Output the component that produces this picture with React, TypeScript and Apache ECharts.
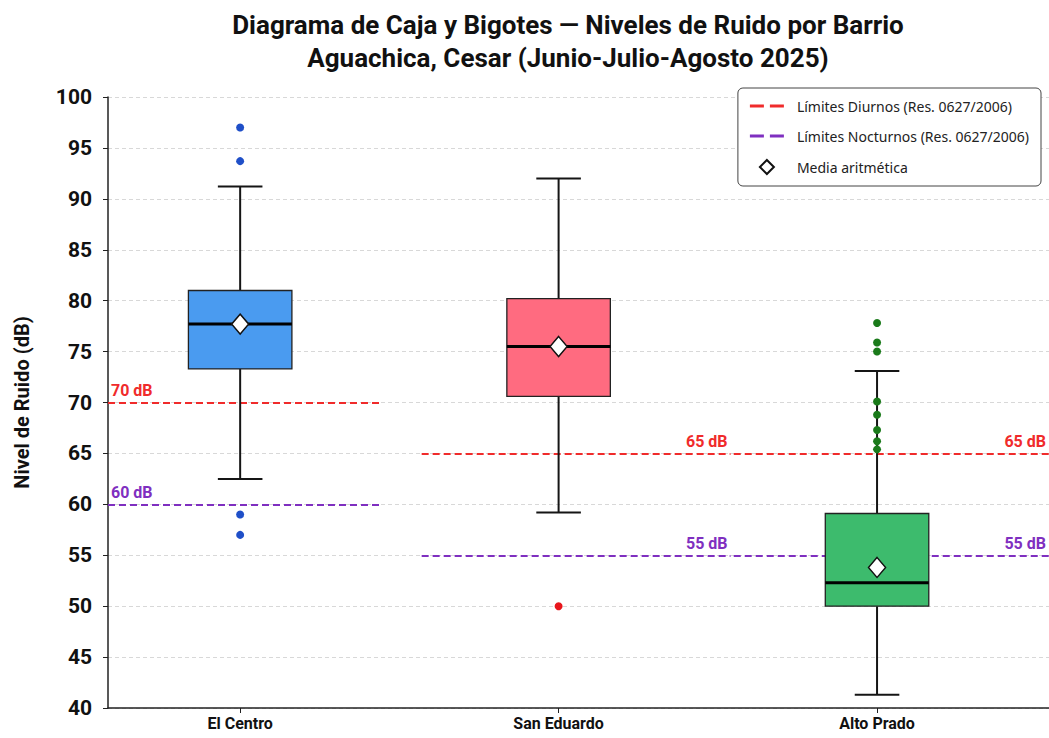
import React, { useEffect, useRef } from "react";
import * as echarts from "echarts";

const categories = ["El Centro", "San Eduardo", "Alto Prado"];
// [low whisker, Q1, median, Q3, high whisker]
const boxStats = [
  [62.5, 73.3, 77.7, 81.0, 91.2],
  [59.2, 70.6, 75.5, 80.2, 92.0],
  [41.3, 50.0, 52.3, 59.1, 73.1],
];
const means = [77.7, 75.5, 53.8];
const outliersElCentro = [97.0, 93.7, 59.0, 57.0];
const outliersSanEduardo = [50.0];
const outliersAltoPrado = [77.8, 75.9, 75.0, 70.1, 68.8, 67.3, 66.2, 65.4];
const diurnalLimits = [70, 65, 65];
const nocturnalLimits = [60, 55, 55];
const yTicks = [40, 100, 5];

const boxColors = ["#4A9BF0", "#FF6B80", "#3DBB6D"];
const outlierColors = ["#1F4FC8", "#E8161C", "#1A7A1A"];
const RED = "#F02B2B";
const PURPLE = "#7F2FC0";
const FONT = "Roboto";
const X_MIN = 0.585;
const X_MAX = 3.54;
const segments = [
  [X_MIN, 1.44],
  [1.57, 2.54],
  [2.55, X_MAX],
];
const BOX_W = 0.325;
const CAP_W = 0.14;
const DASH_ICON = "path://M0,0H14V3H0Z M20,0H34V3H20Z";
const DIAMOND_ICON = "path://M7,0L14,7L7,14L0,7Z";

export default function App() {
  const ref = useRef<HTMLDivElement>(null);
  useEffect(() => {
    if (!ref.current) return;
    const chart = echarts.init(ref.current, null, { renderer: "svg" });
    const outlierGroups = [outliersElCentro, outliersSanEduardo, outliersAltoPrado];
    const outlierData: any[] = [];
    outlierGroups.forEach((g, i) =>
      g.forEach((v) => outlierData.push({ value: [i + 1, v], itemStyle: { color: outlierColors[i] } }))
    );
    const limitMarks = (limits: number[], color: string) =>
      limits.map((v, i) => [
        {
          coord: [segments[i][0], v],
          label: {
            show: true,
            formatter: `${v} dB`,
            position: i === 0 ? "insideStartTop" : "insideEndTop",
            color,
            fontFamily: FONT,
            fontWeight: "bold",
            fontSize: 16,
            distance: [3, 4],
          },
        },
        { coord: [segments[i][1], v] },
      ]);
    const limitSeries = (name: string, limits: number[], color: string) => ({
      name,
      type: "line",
      data: [],
      symbol: "none",
      z: 1,
      lineStyle: { color, width: 2, type: [7, 4] },
      itemStyle: { color },
      markLine: {
        silent: true,
        symbol: "none",
        z: 1,
        lineStyle: { color, width: 2, type: [7, 4] },
        data: limitMarks(limits, color),
      },
    });

    chart.setOption({
      animation: false,
      backgroundColor: "#fff",
      title: {
        text: "Diagrama de Caja y Bigotes — Niveles de Ruido por Barrio\nAguachica, Cesar (Junio-Julio-Agosto 2025)",
        left: 563,
        textAlign: "center",
        top: 3,
        textStyle: { fontFamily: FONT, fontSize: 26, fontWeight: "bold", color: "#111", lineHeight: 33 },
      },
      legend: {
        data: [
          { name: "Límites Diurnos (Res. 0627/2006)", icon: DASH_ICON, itemStyle: { color: RED } },
          { name: "Límites Nocturnos (Res. 0627/2006)", icon: DASH_ICON, itemStyle: { color: PURPLE } },
          { name: "Media aritmética", icon: DIAMOND_ICON },
        ],
        orient: "vertical",
        right: 8,
        top: 88,
        itemWidth: 34,
        itemHeight: 14,
        itemGap: 16,
        padding: [11, 12, 11, 12],
        borderColor: "#444",
        borderWidth: 1,
        borderRadius: 5,
        backgroundColor: "#fff",
        textStyle: { fontFamily: "Noto Sans", fontSize: 14, color: "#222", padding: [0, 0, 0, 8] },
      },
      grid: { left: 108, right: 0, top: 97, bottom: 30, containLabel: false },
      xAxis: {
        type: "value",
        min: X_MIN,
        max: X_MAX,
        axisLine: { show: true, lineStyle: { color: "#222", width: 1.5 } },
        axisTick: { show: true, customValues: [1, 2, 3], length: 5, lineStyle: { color: "#222" } },
        axisLabel: {
          customValues: [1, 2, 3],
          formatter: (v: number) => categories[Math.round(v) - 1] || "",
          fontFamily: FONT,
          fontWeight: "bold",
          fontSize: 16,
          color: "#111",
          margin: 7,
        },
        splitLine: { show: false },
      },
      yAxis: {
        type: "value",
        min: yTicks[0],
        max: yTicks[1],
        interval: yTicks[2],
        name: "Nivel de Ruido (dB)",
        nameLocation: "middle",
        nameGap: 76,
        nameTextStyle: { fontFamily: FONT, fontWeight: "bold", fontSize: 20, color: "#111" },
        axisLine: { show: true, lineStyle: { color: "#222", width: 1.5 } },
        axisTick: { show: true, length: 5, lineStyle: { color: "#222" } },
        axisLabel: { fontFamily: FONT, fontWeight: "bold", fontSize: 21, color: "#111", margin: 16 },
        splitLine: { show: true, lineStyle: { color: "#d8d8d8", type: [4, 3] } },
      },
      series: [
        limitSeries("Límites Diurnos (Res. 0627/2006)", diurnalLimits, RED),
        limitSeries("Límites Nocturnos (Res. 0627/2006)", nocturnalLimits, PURPLE),
        {
          name: "cajas",
          type: "custom",
          z: 3,
          data: boxStats.map((s, i) => [i + 1, ...s]),
          encode: { x: 0, y: [1, 2, 3, 4, 5] },
          renderItem: (params: any, api: any) => {
            const x = api.value(0);
            const low = api.coord([x, api.value(1)]);
            const q1 = api.coord([x, api.value(2)]);
            const med = api.coord([x, api.value(3)]);
            const q3 = api.coord([x, api.value(4)]);
            const high = api.coord([x, api.value(5)]);
            const bw = api.size([BOX_W, 0])[0];
            const cw = api.size([CAP_W, 0])[0];
            const cx = low[0];
            const stroke = { stroke: "#151515", lineWidth: 2 };
            return {
              type: "group",
              children: [
                { type: "line", shape: { x1: cx, y1: high[1], x2: cx, y2: q3[1] }, style: stroke },
                { type: "line", shape: { x1: cx, y1: q1[1], x2: cx, y2: low[1] }, style: stroke },
                { type: "line", shape: { x1: cx - cw / 2, y1: high[1], x2: cx + cw / 2, y2: high[1] }, style: stroke },
                { type: "line", shape: { x1: cx - cw / 2, y1: low[1], x2: cx + cw / 2, y2: low[1] }, style: stroke },
                {
                  type: "rect",
                  shape: { x: cx - bw / 2, y: q3[1], width: bw, height: q1[1] - q3[1] },
                  style: { fill: boxColors[params.dataIndex], stroke: "#222", lineWidth: 1.3 },
                },
                {
                  type: "line",
                  shape: { x1: cx - bw / 2, y1: med[1], x2: cx + bw / 2, y2: med[1] },
                  style: { stroke: "#000", lineWidth: 3 },
                },
              ],
            };
          },
        },
        {
          name: "atípicos",
          type: "scatter",
          z: 4,
          symbolSize: 8,
          itemStyle: { opacity: 1 },
          data: outlierData,
        },
        {
          name: "Media aritmética",
          type: "scatter",
          z: 5,
          symbol: "diamond",
          symbolSize: [17, 20],
          itemStyle: { color: "#fff", borderColor: "#111", borderWidth: 1.5, opacity: 1 },
          data: means.map((m, i) => [i + 1, m]),
        },
      ],
    });
    return () => chart.dispose();
  }, []);
  return <div ref={ref} style={{ position: "fixed", left: 0, top: 0, width: 1049, height: 738 }} />;
}
